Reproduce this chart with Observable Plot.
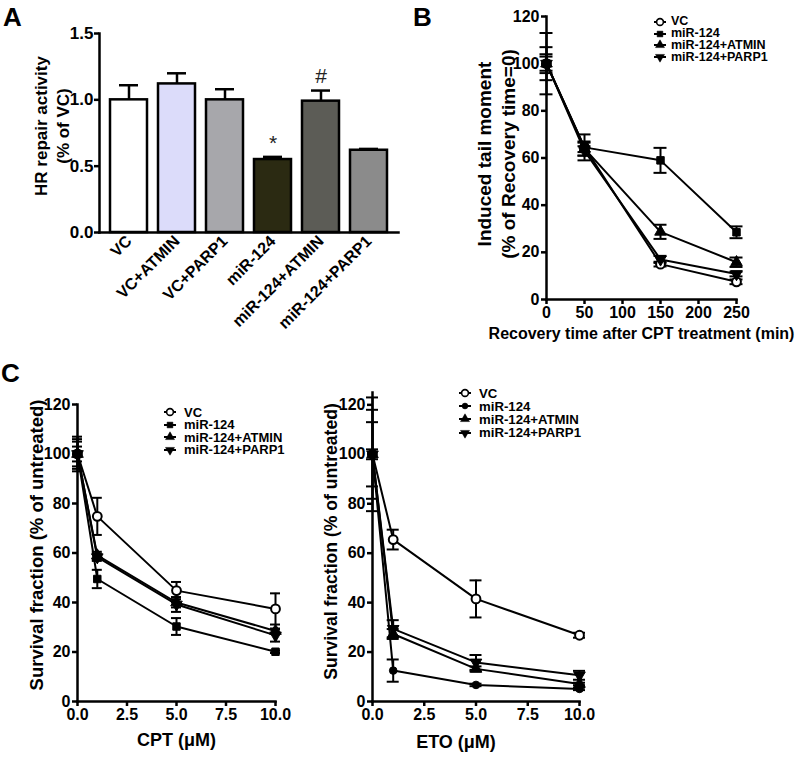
<!DOCTYPE html>
<html><head><meta charset="utf-8">
<script src="https://cdn.jsdelivr.net/npm/d3@7"></script>
<script src="https://cdn.jsdelivr.net/npm/@observablehq/plot@0.6"></script>
<style>
body{margin:0;background:#fff;}
#fig{position:relative;width:800px;height:758px;font-family:"Liberation Sans",Arial,sans-serif;font-weight:bold;color:#000;overflow:hidden;background:#fff}
.panel{position:absolute}
.letter{position:absolute;font-size:26px;font-weight:bold;line-height:1}
.legend{position:absolute;font-weight:bold;line-height:1}
.legend .row{display:flex;align-items:center;white-space:nowrap}
</style></head><body><div id="fig"></div>
<script>
// ---------- Panel A data ----------
const groupsA = ["VC","VC+ATMIN","VC+PARP1","miR-124","miR-124+ATMIN","miR-124+PARP1"];
const hrMean  = [1.00, 1.12, 1.00, 0.55, 0.99, 0.62];
const hrErr   = [0.11, 0.08, 0.08, 0.02, 0.08, 0.01];
const hrSig   = ["", "", "", "*", "#", ""];
const yTicksA = [0, 0.5, 1.0, 1.5];

// ---------- Panel B data ----------
const seriesNames = ["VC","miR-124","miR-124+ATMIN","miR-124+PARP1"];
const timeB = [0, 50, 150, 250];
const tailVC       = [100, 64.5, 15.0, 7.5];
const tailVCErr    = [13, 2, 1, 1];
const tailMiR      = [100, 64.5, 59.0, 28.5];
const tailMiRErr   = [7, 5.5, 5.3, 2.5];
const tailATMIN    = [100, 64, 28.7, 15.8];
const tailATMINErr = [3, 3, 3, 2];
const tailPARP1    = [100, 63, 17.0, 10.8];
const tailPARP1Err = [4, 2, 1.5, 1];
const xTicksB = [0, 50, 100, 150, 200, 250];
const yTicksB = [0, 20, 40, 60, 80, 100, 120];

// ---------- Panel C data ----------
const doseC = [0, 1, 5, 10];
const cptVC       = [100, 74.8, 44.8, 37.4];
const cptVCErr    = [7, 7.5, 3.5, 6.3];
const cptMiR      = [100, 49.5, 30.3, 20.1];
const cptMiRErr   = [5, 3.7, 3.4, 0.5];
const cptATMIN    = [100, 59.0, 40.0, 28.5];
const cptATMINErr = [3, 1.5, 2, 1];
const cptPARP1    = [100, 58.3, 39.2, 26.7];
const cptPARP1Err = [6, 1.5, 3, 2.5];

const etoVC       = [100, 65.5, 41.5, 26.8];
const etoVCErr    = [23, 4, 7.5, 1];
const etoMiR      = [100, 12.5, 6.7, 5.1];
const etoMiRErr   = [2, 4.5, 0.5, 0.5];
const etoATMIN    = [100, 27.3, 13.2, 7.1];
const etoATMINErr = [18, 2, 1, 0.5];
const etoPARP1    = [100, 29.4, 15.8, 10.6];
const etoPARP1Err = [13, 3.5, 3, 1.8];
const xTicksC = [0, 2.5, 5, 7.5, 10];
const yTicksC = [0, 20, 40, 60, 80, 100, 120];

// ---------- helpers ----------
const FONT = '"Liberation Sans", Arial, sans-serif';
const fig = document.getElementById("fig");
function baseStyle(){ return {fontFamily: FONT, fontSize: "16px", fontWeight: "bold", color: "#000", background: "transparent", overflow: "visible"}; }
function place(node, left, top){ node.classList.add("panel"); node.style.left = left + "px"; node.style.top = top + "px"; fig.appendChild(node); }

const triangleDown = {
  draw(context, size) {
    const s3 = Math.sqrt(3);
    const y = -Math.sqrt(size / (s3 * 3));
    context.moveTo(0, -y * 2);
    context.lineTo(-s3 * y, y);
    context.lineTo(s3 * y, y);
    context.closePath();
  }
};
const symbolSpec = {
  circleOpen: {symbol: "circle", d3: d3.symbolCircle, r: 4.4, fill: "#fff", sw: 2},
  square:     {symbol: "square", d3: d3.symbolSquare, r: 4.2, fill: "#000", sw: 1},
  circle:     {symbol: "circle", d3: d3.symbolCircle, r: 3.8, fill: "#000", sw: 1},
  triUp:      {symbol: "triangle", d3: d3.symbolTriangle, r: 4.3, fill: "#000", sw: 1},
  triDown:    {symbol: triangleDown, d3: triangleDown, r: 4.3, fill: "#000", sw: 1}
};

// ---------- Panel A ----------
const tableA = groupsA.map((g, i) => ({group: g, mean: hrMean[i], top: hrMean[i] + hrErr[i], sig: hrSig[i]}));
const plotA = Plot.plot({
  width: 400, height: 330, marginLeft: 99, marginRight: 2, marginTop: 33, marginBottom: 98,
  style: baseStyle(),
  x: {domain: groupsA, padding: 0.22, label: null},
  y: {domain: [0, 1.5], label: null},
  color: {domain: groupsA, range: ["#ffffff", "#dcdcfa", "#a7a7ab", "#2b2a12", "#5c5c56", "#8b8b8b"]},
  marks: [
    Plot.ruleX(tableA, {x: "group", y1: "mean", y2: "top", stroke: "#000", strokeWidth: 2.5}),
    Plot.tickY(tableA, {x: "group", y: "top", stroke: "#000", strokeWidth: 2.5, insetLeft: 9, insetRight: 9}),
    Plot.barY(tableA, {x: "group", y: "mean", fill: "group", stroke: "#000", strokeWidth: 2.5}),
    Plot.text(tableA.filter(d => d.sig), {x: "group", y: "top", text: "sig", dy: -14, fontSize: 21, fontWeight: "normal", fill: "#222"}),
    Plot.axisY({ticks: yTicksA, tickFormat: d3.format(".1f"), tickSize: 5, tickPadding: 1, strokeWidth: 2.5, label: null, fontSize: 17}),
    Plot.axisX({tickRotate: -45, tickSize: 0, tickPadding: 6, label: null, fontSize: 16}),
    Plot.frame({anchor: "left", strokeWidth: 2.5}),
    Plot.frame({anchor: "bottom", strokeWidth: 2.5}),
    Plot.text(["HR repair activity\n(% of VC)"], {frameAnchor: "left", textAnchor: "middle", lineAnchor: "middle", rotate: -90, dx: -49, dy: -7, fontSize: 17, lineHeight: 1.3})
  ]
});
place(plotA, 0, 0);

// ---------- line panels ----------
function linePanel(o){
  const rows = [];
  o.series.forEach((s, k) => o.xs.forEach((x, i) => rows.push({series: s.name, k, x, y: s.mean[i], err: s.err[i]})));
  const marks = [
    Plot.line(rows, {x: "x", y: "y", z: "series", stroke: "#000", strokeWidth: 2}),
    Plot.ruleX(rows, {x: "x", y1: d => d.y - d.err, y2: d => d.y + d.err, stroke: "#000", strokeWidth: 2}),
    Plot.ruleY(rows, {x1: "x", x2: "x", y: d => d.y + d.err, insetLeft: -o.cap, insetRight: -o.cap, stroke: "#000", strokeWidth: 2}),
    Plot.ruleY(rows, {x1: "x", x2: "x", y: d => d.y - d.err, insetLeft: -o.cap, insetRight: -o.cap, stroke: "#000", strokeWidth: 2})
  ];
  o.series.forEach((s, k) => {
    const sp = symbolSpec[s.sym];
    marks.push(Plot.dot(rows.filter(d => d.k === k), {x: "x", y: "y", symbol: sp.symbol, r: sp.r, fill: sp.fill, stroke: "#000", strokeWidth: sp.sw}));
  });
  marks.push(
    Plot.axisY({ticks: o.yTicks, tickSize: 5, tickPadding: 2, strokeWidth: 2.5, label: null, fontSize: 16}),
    Plot.axisX({ticks: o.xTicks, tickFormat: o.xFormat, tickSize: 5, tickPadding: 2, strokeWidth: 2.5, label: null, fontSize: 16}),
    Plot.frame({anchor: "left", strokeWidth: 2.5}),
    Plot.frame({anchor: "bottom", strokeWidth: 2.5}),
    Plot.text([o.yLabel], {frameAnchor: "left", textAnchor: "middle", lineAnchor: "middle", rotate: -90, dx: o.yDx, dy: o.yDy, fontSize: o.yFont, lineHeight: o.yLH || 1.25}),
    Plot.text([o.xLabel], {frameAnchor: "bottom", textAnchor: "middle", lineAnchor: "middle", dx: o.xDx || 0, dy: o.xDy, fontSize: o.xFont})
  );
  return Plot.plot({
    width: o.width, height: o.height,
    marginLeft: o.ml, marginRight: o.mr, marginTop: o.mt, marginBottom: o.mb,
    style: baseStyle(),
    x: {domain: o.xDomain, label: null},
    y: {domain: o.yDomain, label: null},
    marks
  });
}

function legend(left, top, rowH, fontSize, gap, syms){
  const div = document.createElement("div");
  div.className = "legend";
  div.style.left = left + "px"; div.style.top = top + "px"; div.style.fontSize = fontSize + "px";
  seriesNames.forEach((name, i) => {
    const row = document.createElement("div");
    row.className = "row"; row.style.height = rowH + "px";
    const sp = symbolSpec[syms[i]];
    const size = Math.PI * sp.r * sp.r * 0.6;
    const path = d3.symbol(sp.d3, size)();
    const svg = `<svg width="12" height="12" viewBox="-6 -6 12 12" style="overflow:visible;margin-right:${gap}px;flex:none">
      <line x1="-6" x2="6" y1="0" y2="0" stroke="#000" stroke-width="2"/>
      <path d="${path}" fill="${sp.fill}" stroke="#000" stroke-width="${sp.sw === 2 ? 1.6 : 0.5}"/></svg>`;
    row.innerHTML = svg + `<span>${name}</span>`;
    div.appendChild(row);
  });
  fig.appendChild(div);
}

// ---------- Panel B ----------
const plotB = linePanel({
  width: 400, height: 345, ml: 146, mr: 64, mt: 16, mb: 46,
  xs: timeB, xDomain: [0, 250], yDomain: [0, 120], xTicks: xTicksB, yTicks: yTicksB, xFormat: d3.format("d"),
  cap: 6.5,
  series: [
    {name: seriesNames[0], mean: tailVC, err: tailVCErr, sym: "circleOpen"},
    {name: seriesNames[1], mean: tailMiR, err: tailMiRErr, sym: "square"},
    {name: seriesNames[2], mean: tailATMIN, err: tailATMINErr, sym: "triUp"},
    {name: seriesNames[3], mean: tailPARP1, err: tailPARP1Err, sym: "triDown"}
  ],
  yLabel: "Induced tail moment\n(% of Recovery time=0)", yDx: -51, yDy: -4, yFont: 19, yLH: 1.26,
  xLabel: "Recovery time after CPT treatment (min)", xDy: 34, xFont: 16
});
place(plotB, 400, 0);
legend(654, 15.7, 11.9, 12.5, 5, ["circleOpen", "square", "triUp", "triDown"]);

// ---------- Panel C (CPT) ----------
const plotC1 = linePanel({
  width: 320, height: 418, ml: 77, mr: 45, mt: 64, mb: 57,
  xs: doseC, xDomain: [0, 10], yDomain: [0, 120], xTicks: xTicksC, yTicks: yTicksC, xFormat: d3.format(".1f"),
  cap: 5,
  series: [
    {name: seriesNames[0], mean: cptVC, err: cptVCErr, sym: "circleOpen"},
    {name: seriesNames[1], mean: cptMiR, err: cptMiRErr, sym: "square"},
    {name: seriesNames[2], mean: cptATMIN, err: cptATMINErr, sym: "triUp"},
    {name: seriesNames[3], mean: cptPARP1, err: cptPARP1Err, sym: "triDown"}
  ],
  yLabel: "Survival fraction (% of untreated)", yDx: -42, yDy: -8, yFont: 18.5,
  xLabel: "CPT (\u03bcM)", xDy: 39, xFont: 18
});
place(plotC1, 0, 340);
legend(164, 406.2, 12.4, 13, 8, ["circleOpen", "square", "triUp", "triDown"]);

// ---------- Panel C (ETO) ----------
const plotC2 = linePanel({
  width: 320, height: 418, ml: 72, mr: 41, mt: 52, mb: 57,
  xs: doseC, xDomain: [0, 10], yDomain: [0, 125], xTicks: xTicksC, yTicks: yTicksC, xFormat: d3.format(".1f"),
  cap: 6,
  series: [
    {name: seriesNames[0], mean: etoVC, err: etoVCErr, sym: "circleOpen"},
    {name: seriesNames[1], mean: etoMiR, err: etoMiRErr, sym: "circle"},
    {name: seriesNames[2], mean: etoATMIN, err: etoATMINErr, sym: "triUp"},
    {name: seriesNames[3], mean: etoPARP1, err: etoPARP1Err, sym: "triDown"}
  ],
  yLabel: "Survival fraction (% of untreated)", yDx: -42.5, yDy: -5.5, yFont: 17.6,
  xLabel: "ETO (\u03bcM)", xDx: -20, xDy: 41, xFont: 18
});
place(plotC2, 300, 340);
legend(459, 386.7, 13.1, 13.2, 8, ["circleOpen", "circle", "triUp", "triDown"]);

// ---------- panel letters ----------
[["A", 3, 4], ["B", 413, 4], ["C", 1, 360]].forEach(([t, l, tp]) => {
  const d = document.createElement("div"); d.className = "letter"; d.textContent = t;
  d.style.left = l + "px"; d.style.top = tp + "px"; fig.appendChild(d);
});
</script></body></html>
